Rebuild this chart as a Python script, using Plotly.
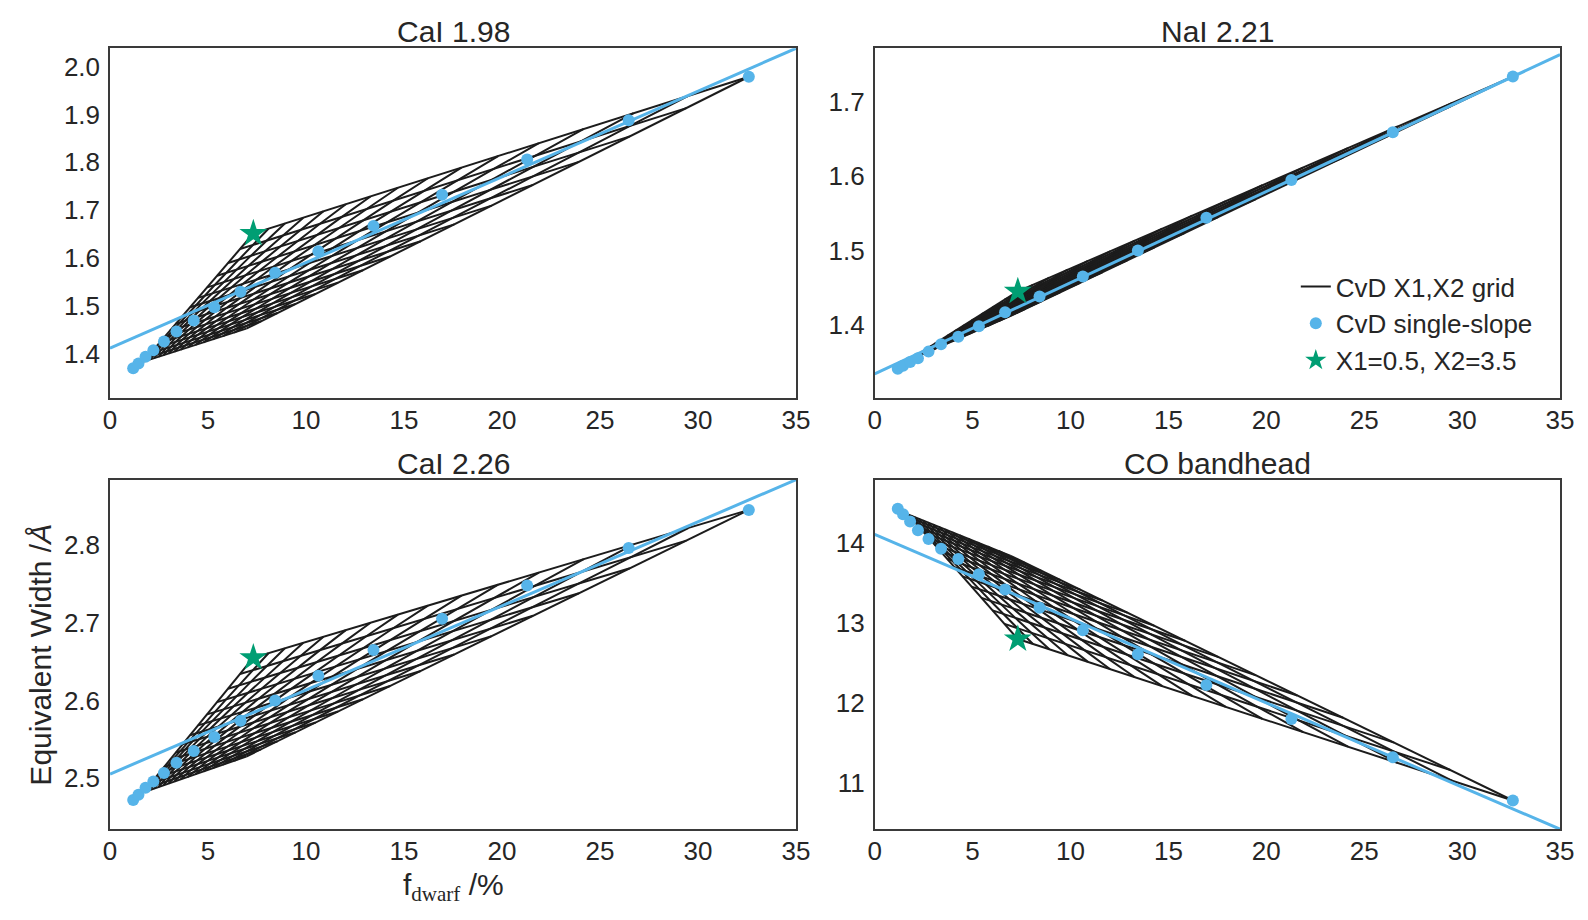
import numpy as np
import plotly.graph_objects as go

# IMF slopes of the CvD grid (X1 for 0.08-0.5 Msun, X2 for 0.5-1 Msun)
X_SLOPES = [0.5, 0.7, 0.9, 1.1, 1.3, 1.5, 1.7, 1.9, 2.1, 2.3, 2.5, 2.7, 2.9, 3.1, 3.3, 3.5]

# f_dwarf (%) of the single-slope models (blue dots)
F_SINGLE = [1.18, 1.45, 1.81, 2.21, 2.75, 3.39, 4.27, 5.32, 6.66, 8.42,
            10.63, 13.44, 16.94, 21.28, 26.46, 32.59]

# f_dwarf (%) along the four edges of the X1,X2 grid
F_X2_LO = [1.70, 1.87, 2.05, 2.25, 2.47, 2.72, 2.99, 3.28, 3.60, 3.96,
           4.35, 4.77, 5.24, 5.76, 6.33, 6.95]       # X2=0.5, X1 0.5 -> 3.5
F_X2_HI = [7.31, 8.08, 8.92, 9.86, 10.89, 12.03, 13.29, 14.69, 16.22, 17.93,
           19.80, 21.88, 24.17, 26.71, 29.50, 32.59]  # X2=3.5, X1 0.5 -> 3.5
F_X1_LO = [1.70, 1.87, 2.06, 2.28, 2.51, 2.76, 3.05, 3.36, 3.70, 4.08,
           4.49, 4.95, 5.46, 6.02, 6.63, 7.31]       # X1=0.5, X2 0.5 -> 3.5
F_X1_HI = [6.95, 7.70, 8.54, 9.47, 10.49, 11.63, 12.90, 14.29, 15.85, 17.56,
           19.47, 21.58, 23.92, 26.52, 29.40, 32.59]  # X1=3.5, X2 0.5 -> 3.5

# equivalent widths (A): single-slope dots, grid corners (tip, X1=0.5/X2=3.5, X1=3.5/X2=0.5, end), fit line
CAI198_SINGLE = [1.369, 1.379, 1.393, 1.407, 1.425, 1.446, 1.469, 1.497, 1.529, 1.569,
                 1.614, 1.667, 1.732, 1.806, 1.888, 1.979]
CAI198_CORNERS = [1.383, 1.651, 1.452, 1.979]
CAI198_FIT = [1.411, 0.01793]
CAI198_TICKS = [1.4, 1.5, 1.6, 1.7, 1.8, 1.9, 2.0]

NAI221_SINGLE = [1.341, 1.345, 1.350, 1.355, 1.364, 1.374, 1.384, 1.398, 1.417, 1.438,
                 1.465, 1.500, 1.544, 1.595, 1.659, 1.734]
NAI221_CORNERS = [1.352, 1.445, 1.412, 1.734]
NAI221_FIT = [1.334, 0.01227]
NAI221_TICKS = [1.4, 1.5, 1.6, 1.7]

CAI226_SINGLE = [2.472, 2.479, 2.488, 2.496, 2.507, 2.520, 2.535, 2.553, 2.574, 2.600,
                 2.632, 2.665, 2.705, 2.748, 2.796, 2.845]
CAI226_CORNERS = [2.482, 2.655, 2.528, 2.845]
CAI226_FIT = [2.5055, 0.01081]
CAI226_TICKS = [2.5, 2.6, 2.7, 2.8]

CO_SINGLE = [14.43, 14.36, 14.27, 14.16, 14.05, 13.93, 13.80, 13.61, 13.42, 13.19,
             12.91, 12.61, 12.225, 11.80, 11.32, 10.78]
CO_CORNERS = [14.36, 12.80, 13.84, 10.78]
CO_FIT = [14.11, -0.1054]
CO_TICKS = [11, 12, 13, 14]

X_TICKS = [0, 5, 10, 15, 20, 25, 30, 35]

BLUE = "#56B4E9"
GREEN = "#009E73"
INK = "#262626"
FONT = "Liberation Sans, Arial, sans-serif"

PANELS = [
    dict(title="CaI 1.98", single=CAI198_SINGLE, corners=CAI198_CORNERS, fit=CAI198_FIT,
         ticks=CAI198_TICKS, yrange=[1.3075, 2.0385], fmt=".1f"),
    dict(title="NaI 2.21", single=NAI221_SINGLE, corners=NAI221_CORNERS, fit=NAI221_FIT,
         ticks=NAI221_TICKS, yrange=[1.302, 1.772], fmt=".1f"),
    dict(title="CaI 2.26", single=CAI226_SINGLE, corners=CAI226_CORNERS, fit=CAI226_FIT,
         ticks=CAI226_TICKS, yrange=[2.4345, 2.8835], fmt=".1f"),
    dict(title="CO bandhead", single=CO_SINGLE, corners=CO_CORNERS, fit=CO_FIT,
         ticks=CO_TICKS, yrange=[10.42, 14.79], fmt="d"),
]

X_DOMAINS = [[0.0693, 0.5013], [0.5508, 0.9824]]
Y_DOMAINS = [[0.5677, 0.9475], [0.0986, 0.4783]]


def edge_ew(f_edge, f0, e0, f1, e1):
    f = np.asarray(f_edge, dtype=float)
    return e0 + (e1 - e0) * (f - f0) / (f1 - f0)


def coons(lo_j, hi_j, lo_i, hi_i):
    # grid nodes P[i, j] (i: X1 index, j: X2 index) blended from the four edges
    lo_j, hi_j, lo_i, hi_i = map(np.asarray, (lo_j, hi_j, lo_i, hi_i))
    n = len(lo_j)
    t = np.arange(n) / (n - 1)
    u, v = t[:, None], t[None, :]
    corners = ((1 - u) * (1 - v) * lo_j[0] + u * (1 - v) * lo_j[-1]
               + (1 - u) * v * hi_j[0] + u * v * hi_j[-1])
    return ((1 - v) * lo_j[:, None] + v * hi_j[:, None]
            + (1 - u) * lo_i[None, :] + u * hi_i[None, :] - corners)


def mesh_xy(corners):
    tip, star, other, end = corners
    f_tip, f_star, f_other, f_end = F_X2_LO[0], F_X2_HI[0], F_X2_LO[-1], F_X2_HI[-1]
    fx = coons(F_X2_LO, F_X2_HI, F_X1_LO, F_X1_HI)
    fy = coons(edge_ew(F_X2_LO, f_tip, tip, f_other, other),
               edge_ew(F_X2_HI, f_star, star, f_end, end),
               edge_ew(F_X1_LO, f_tip, tip, f_star, star),
               edge_ew(F_X1_HI, f_other, other, f_end, end))
    xs, ys = [], []
    n = len(X_SLOPES)
    for k in range(n):
        xs += list(fx[k, :]) + [None]
        ys += list(fy[k, :]) + [None]
        xs += list(fx[:, k]) + [None]
        ys += list(fy[:, k]) + [None]
    return xs, ys


fig = go.Figure()
annotations = []

for idx, p in enumerate(PANELS):
    row, col = divmod(idx, 2)
    sfx = "" if idx == 0 else str(idx + 1)
    xa, ya = "x" + sfx, "y" + sfx
    legend = idx == 1

    mx, my = mesh_xy(p["corners"])
    fig.add_trace(go.Scatter(x=mx, y=my, mode="lines", xaxis=xa, yaxis=ya,
                             line=dict(color="#1c1c1c", width=2),
                             name="CvD X1,X2 grid", showlegend=legend, hoverinfo="skip"))
    b, m = p["fit"]
    fig.add_trace(go.Scatter(x=[0, 35], y=[b, b + m * 35], mode="lines", xaxis=xa, yaxis=ya,
                             line=dict(color=BLUE, width=3), showlegend=False))
    fig.add_trace(go.Scatter(x=F_SINGLE, y=p["single"], mode="markers", xaxis=xa, yaxis=ya,
                             marker=dict(color=BLUE, size=12),
                             name="CvD single-slope", showlegend=legend))
    fig.add_trace(go.Scatter(x=[F_X1_LO[-1]], y=[p["corners"][1]], mode="markers",
                             xaxis=xa, yaxis=ya,
                             marker=dict(color=GREEN, size=21, symbol="star"),
                             name="X1=0.5, X2=3.5", showlegend=legend))

    axis_common = dict(showline=True, mirror=True, linecolor="#3a3a3a", linewidth=1.6,
                       showgrid=False, zeroline=False, ticks="", automargin=False,
                       tickfont=dict(size=26, color=INK, family=FONT))
    fig.layout["xaxis" + sfx] = dict(axis_common, domain=X_DOMAINS[col], anchor=ya,
                                     range=[0, 35], tickvals=X_TICKS, ticklabelstandoff=-2)
    fig.layout["yaxis" + sfx] = dict(axis_common, domain=Y_DOMAINS[row], anchor=xa,
                                     range=p["yrange"], tickvals=p["ticks"],
                                     tickformat=p["fmt"], ticklabelstandoff=3)

    xc = sum(X_DOMAINS[col]) / 2
    annotations.append(dict(text=p["title"], x=xc, y=Y_DOMAINS[row][1] + 0.018,
                            xref="paper", yref="paper", xanchor="center", yanchor="middle",
                            showarrow=False, font=dict(size=30, color=INK, family=FONT)))

annotations.append(dict(text="Equivalent Width /<i>Å</i>", x=41 / 1588, y=sum(Y_DOMAINS[1]) / 2,
                        xref="paper", yref="paper", textangle=-90, showarrow=False,
                        xanchor="center", yanchor="middle",
                        font=dict(size=30, color=INK, family=FONT)))
annotations.append(dict(text="f<sub><span style=\"font-family:'Liberation Serif'\">dwarf</span></sub> /%",
                        x=sum(X_DOMAINS[0]) / 2, y=0.036, xref="paper", yref="paper",
                        showarrow=False, xanchor="center", yanchor="middle",
                        font=dict(size=30, color=INK, family=FONT)))

fig.update_layout(
    width=1588,
    height=920,
    margin=dict(l=0, r=0, t=0, b=0, autoexpand=False),
    paper_bgcolor="white",
    plot_bgcolor="white",
    font=dict(family=FONT, color=INK),
    annotations=annotations,
    legend=dict(x=0.816, y=0.714, xanchor="left", yanchor="top",
                bgcolor="rgba(0,0,0,0)", font=dict(size=26, color=INK, family=FONT),
                tracegroupgap=4),
)

fig.write_html("out.html", config={"displayModeBar": False},
               post_script="document.body.style.margin='0';document.body.style.overflow='hidden';")
